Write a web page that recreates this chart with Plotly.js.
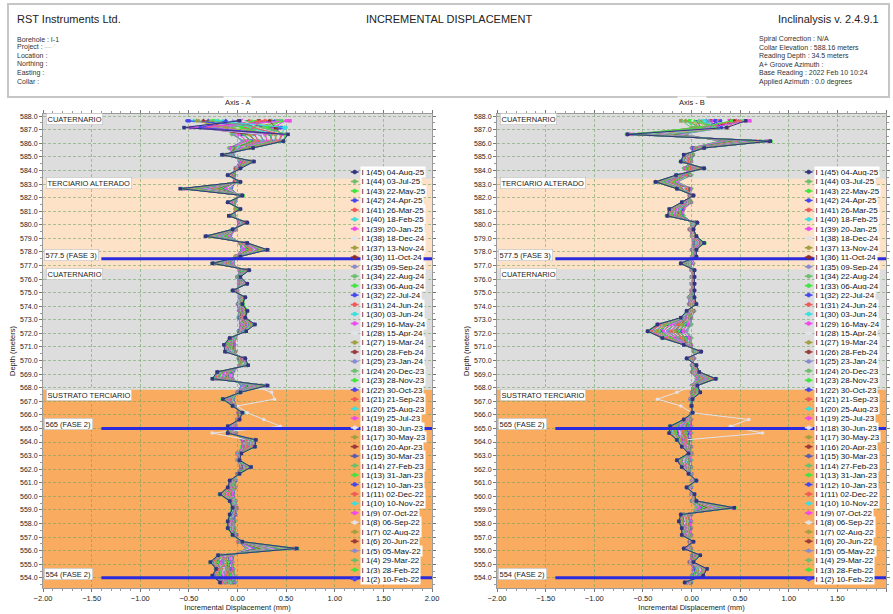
<!DOCTYPE html>
<html><head><meta charset="utf-8">
<script src="https://cdn.plot.ly/plotly-3.0.1.min.js"></script>
<style>html,body{margin:0;padding:0;background:#fff;}#chart{width:893px;height:614px;}</style>
</head><body><div id="chart"></div>
<script>
// ---------- DATA ----------
// Reading elevations (m): collar 588.16 m, readings every 0.5 m down to 34.5 m depth
const elevations = [587.66,587.16,586.66,586.16,585.66,585.16,584.66,584.16,583.66,583.16,
582.66,582.16,581.66,581.16,580.66,580.16,579.66,579.16,578.66,578.16,
577.66,577.16,576.66,576.16,575.66,575.16,574.66,574.16,573.66,573.16,
572.66,572.16,571.66,571.16,570.66,570.16,569.66,569.16,568.66,568.16,
567.66,567.16,566.66,566.16,565.66,565.16,564.66,564.16,563.66,563.16,
562.66,562.16,561.66,561.16,560.66,560.16,559.66,559.16,558.66,558.16,
557.66,557.16,556.66,556.16,555.66,555.16,554.66,554.16,553.66];

// Readings, oldest first
const readingLabels = ['I 1(2) 10-Feb-22','I 1(3) 28-Feb-22','I 1(4) 29-Mar-22','I 1(5) 05-May-22','I 1(6) 20-Jun-22','I 1(7) 02-Aug-22','I 1(8) 06-Sep-22','I 1(9) 07-Oct-22','I 1(10) 10-Nov-22','I 1(11) 02-Dec-22','I 1(12) 10-Jan-23','I 1(13) 31-Jan-23','I 1(14) 27-Feb-23','I 1(15) 30-Mar-23','I 1(16) 20-Apr-23','I 1(17) 30-May-23','I 1(18) 30-Jun-23','I 1(19) 25-Jul-23','I 1(20) 25-Aug-23','I 1(21) 21-Sep-23','I 1(22) 30-Oct-23','I 1(23) 28-Nov-23','I 1(24) 20-Dec-23','I 1(25) 23-Jan-24','I 1(26) 28-Feb-24','I 1(27) 19-Mar-24','I 1(28) 15-Apr-24','I 1(29) 16-May-24','I 1(30) 03-Jun-24','I 1(31) 24-Jun-24','I 1(32) 22-Jul-24','I 1(33) 06-Aug-24','I 1(34) 22-Aug-24','I 1(35) 09-Sep-24','I 1(36) 11-Oct-24','I 1(37) 13-Nov-24','I 1(38) 18-Dec-24','I 1(39) 20-Jan-25','I 1(40) 18-Feb-25','I 1(41) 26-Mar-25','I 1(42) 24-Apr-25','I 1(43) 22-May-25','I 1(44) 03-Jul-25','I 1(45) 04-Aug-25'];

const seriesColors = ['#4646f0','#3ee63e','#6cbf6c','#8a8ad2','#9a3a3a','#a0a040','#e2e2ec','#f048f0','#38e0e0','#f05a5a',
'#4646f0','#3ee63e','#6cbf6c','#5a5ab0','#9a3a3a','#a0a040','#e2e2ec','#f048f0','#38e0e0','#f05a5a',
'#4646f0','#3ee63e','#6cbf6c','#8a8ad2','#9a3a3a','#a0a040','#e2e2ec','#f048f0','#38e0e0','#f05a5a',
'#4646f0','#3ee63e','#6cbf6c','#8a8ad2','#8c2a2a','#a0a040','#e2e2ec','#f048f0','#38e0e0','#f05a5a',
'#4646f0','#3ee63e','#6cbf6c','#34347e'];

// Incremental displacement, Axis A, hundredths of mm (one row per reading, oldest first)
const dispA = [
[10,20, -4,5,-7,-4,2,-2,-3,-2, -6,1,-2,-2,-3,1,-2,-7,2,4, -2,-4,2,0,1,0,2,0,1,1, 3,1,-2,-3,-2,1,2,-4,-5,4, 0,-4,-1,1,0,-2,-1,4,5,0, 0,3,0,-2,-2,-4,-2,-1,-2,-3, -3,-1,1,9,-4,-5,-4,-3,-2],
[-20,5, -5,7,-8,-5,3,-1,-3,-3, -8,1,-3,-1,-3,2,-2,-9,2,5, -1,-5,2,0,2,0,2,1,2,1, 4,2,-2,-3,-2,1,2,-5,-6,5, 0,-5,-1,1,0,-2,-2,5,4,0, 0,4,0,-2,-2,-5,-2,-1,-2,-3, -3,-1,1,11,-5,-6,-4,-3,-2],
[35,-10, -6,6,-9,-5,3,-2,-4,-3, -7,1,-3,-2,-3,2,-2,-8,3,5, -2,-5,3,0,2,0,2,0,2,1, 4,1,-2,-4,-2,1,2,-5,-5,6, 0,-5,-1,1,0,-3,-2,5,6,0, 0,4,0,-2,-3,-5,-2,-1,-2,-3, -3,-1,1,10,-5,-5,-5,-3,-2],
[-5,35, -4,6,-8,-6,3,-2,-3,-3, -7,2,-3,-2,-4,2,-2,-8,2,6, -2,-5,2,0,2,0,2,0,2,1, 4,1,-2,-3,-2,1,3,-5,-5,5, 0,-5,-1,1,0,-2,-2,5,5,1, 0,4,0,-2,-2,-5,-2,-1,-2,-4, -3,-1,1,12,-5,-5,-4,-4,-2],
[22,15, 1,10,-6,-6,4,-2,-4,-2, -12,1,-4,-2,-4,3,-2,-10,3,8, -2,-7,3,0,3,-1,3,1,3,2, 5,2,-3,-4,-3,2,3,-7,-7,8, 0,-6,-1,1,0,-3,-3,6,6,0, 0,5,0,-3,-3,-6,-3,-1,-3,-4, -4,-1,1,15,-7,-7,-6,-5,-4],
[-40,-20, 2,9,-5,-6,5,-1,-4,-2, -13,2,-4,-1,-4,3,-2,-11,3,9, -2,-8,3,0,3,-1,3,1,4,2, 6,2,-3,-4,-3,2,3,-8,-7,9, 1,-6,-2,1,0,-3,-3,7,6,0, 0,5,0,-3,-3,-7,-3,-2,-3,-4, -4,-2,1,17,-7,-8,-6,-5,-4],
[48,40, 0,11,-6,-7,4,-2,-5,-2, -11,1,-5,-2,-4,3,-3,-10,4,8, -1,-7,3,1,3,-1,2,1,3,2, 5,2,-3,-5,-3,2,3,-7,-8,8, 0,-6,-1,2,0,-3,-3,6,7,1, 0,5,1,-3,-3,-6,-3,-1,-3,-5, -4,-1,2,14,-7,-7,-7,-5,-4],
[5,28, 1,10,-7,-6,4,-2,-4,-3, -12,1,-4,-2,-5,3,-2,-10,3,7, -2,-7,3,0,3,-1,3,1,3,3, 5,2,-3,-4,-4,2,3,-7,-7,8, 0,-7,-1,1,0,-3,-4,6,6,0, 0,6,0,-3,-3,-6,-3,-1,-3,-4, -4,-1,1,16,-7,-7,-6,-6,-4],
[-15,10, 6,14,-3,-7,6,-1,-4,-2, -17,2,-4,-1,-4,4,-3,-13,4,10, -1,-9,4,0,4,-1,3,1,4,2, 7,2,-3,-5,-4,2,4,-8,-9,10, 1,-7,-2,2,0,-4,-4,8,8,1, 0,6,0,-3,-4,-8,-3,-2,-3,-4, -4,-2,2,20,-8,-9,-8,-7,-5],
[30,-30, 7,13,-2,-7,6,-1,-5,-2, -18,2,-4,-1,-5,4,-3,-14,4,11, -1,-10,4,1,4,-1,3,1,4,3, 7,3,-3,-5,-4,2,4,-9,-9,11, 1,-7,-2,2,0,-4,-5,8,9,1, 0,6,0,-4,-4,-8,-3,-2,-3,-5, -4,-2,2,22,-8,-10,-8,-7,-6],
[-50,45, 5,15,-3,-8,6,-1,-4,-3, -16,2,-5,-1,-4,4,-3,-13,5,10, -1,-9,4,0,4,-2,3,1,4,2, 8,2,-4,-5,-4,2,4,-8,-10,10, 1,-8,-2,2,0,-4,-4,8,8,1, 1,6,0,-3,-4,-8,-4,-2,-3,-4, -5,-2,2,19,-9,-9,-8,-8,-5],
[18,22, 6,14,-4,-7,7,-1,-4,-2, -17,2,-4,-2,-4,5,-3,-12,4,10, -1,-9,4,0,5,-1,3,1,4,2, 7,2,-3,-6,-4,2,4,-8,-9,10, 1,-7,-2,2,0,-5,-4,9,8,1, 0,7,0,-3,-4,-8,-3,-2,-4,-4, -4,-2,2,21,-8,-9,-9,-7,-5],
[40,-5, 12,18,-1,-8,7,-1,-5,-1, -22,2,-5,-1,-5,4,-3,-15,4,13, -1,-11,5,1,4,-2,4,2,4,3, 8,3,-4,-6,-5,3,4,-10,-11,13, 1,-8,-2,2,1,-4,-4,9,9,1, 1,7,1,-4,-4,-9,-4,-2,-4,-5, -5,-2,2,25,-10,-12,-9,-10,-7],
[-30,38, 13,17,0,-8,8,-1,-5,-1, -23,3,-5,-1,-5,5,-3,-16,4,14, -1,-12,5,1,4,-2,4,2,5,3, 9,3,-4,-6,-5,3,5,-10,-12,13, 1,-8,-3,2,1,-5,-4,10,9,1, 1,7,1,-4,-5,-9,-4,-2,-4,-5, -5,-2,3,27,-10,-13,-10,-10,-7],
[0,-40, 11,19,-2,-9,7,-2,-6,-1, -21,2,-6,-1,-5,4,-4,-15,5,12, -1,-11,5,1,5,-2,4,2,4,3, 8,3,-4,-7,-5,3,4,-11,-11,12, 2,-9,-2,2,1,-4,-5,9,10,1, 1,7,1,-4,-4,-10,-4,-3,-4,-5, -6,-2,2,24,-11,-12,-9,-11,-7],
[52,12, 12,18,-1,-8,7,-1,-5,-2, -22,2,-5,-2,-6,4,-3,-15,4,13, -2,-11,6,1,4,-2,4,2,4,4, 8,4,-4,-6,-5,3,4,-10,-11,14, 1,-8,-2,3,1,-4,-4,9,9,2, 1,8,1,-4,-4,-9,-4,-2,-5,-5, -5,-3,2,26,-10,-12,-10,-10,-8],
[-10,30, 17,22,2,-9,8,0,-6,-1, -27,3,-6,0,-5,5,-3,-18,5,15, 0,-13,6,1,5,-2,4,2,5,4, 9,4,-4,-7,-6,4,5,-11,-13,15, 35,38,0,10,27,44,-26,10,10,1, 1,8,1,-4,-5,-10,-4,-3,-4,-6, -6,-3,3,30,-11,-14,-11,-12,-8],
[25,-15, 18,21,2,-9,9,0,-6,-1, -28,3,-6,0,-6,5,-3,-18,5,16, 0,-14,6,1,5,-2,5,2,5,4, 10,4,-4,-7,-6,4,5,-12,-13,15, 1,-9,-3,3,1,-5,-5,11,10,1, 1,8,1,-5,-5,-10,-4,-3,-5,-6, -6,-3,3,31,-11,-14,-12,-12,-8],
[-45,48, 16,23,1,-9,8,0,-7,-1, -26,3,-6,1,-5,5,-3,-17,6,15, 0,-13,6,1,5,-3,4,2,5,4, 9,5,-4,-7,-6,4,5,-11,-14,14, 1,-10,-3,3,1,-5,-6,10,11,1, 1,8,1,-4,-5,-11,-4,-3,-4,-6, -7,-3,3,29,-12,-14,-11,-13,-8],
[12,8, 17,22,3,-10,8,0,-6,-2, -27,3,-7,0,-5,6,-3,-19,5,15, 0,-13,7,1,5,-2,4,3,5,4, 9,4,-5,-7,-7,4,5,-11,-13,16, 1,-9,-3,3,1,-5,-5,10,10,2, 1,9,1,-4,-5,-10,-5,-3,-4,-6, -6,-3,3,31,-11,-15,-11,-12,-9],
[38,-45, 23,27,4,-10,10,0,-6,0, -32,3,-6,0,-6,6,-4,-20,6,18, 0,-15,7,1,6,-3,5,3,6,5, 11,5,-5,-8,-7,5,6,-13,-15,18, 2,-10,-3,3,1,-6,-6,12,12,2, 1,9,1,-5,-6,-12,-5,-3,-5,-6, -6,-3,3,35,-13,-16,-13,-14,-10],
[-25,25, 24,26,5,-10,11,0,-7,0, -33,3,-6,0,-7,6,-4,-21,6,19, 0,-16,7,1,6,-3,5,3,7,5, 12,5,-5,-8,-7,5,6,-14,-15,19, 2,-11,-3,3,1,-6,-7,12,13,2, 1,9,1,-5,-6,-12,-5,-3,-6,-6, -7,-3,3,37,-13,-17,-13,-15,-10],
[8,33, 22,28,4,-11,10,1,-6,0, -31,4,-7,0,-6,7,-4,-20,7,17, 1,-15,8,1,6,-3,5,3,6,6, 11,5,-6,-8,-8,5,6,-13,-16,18, 2,-10,-4,3,2,-6,-6,12,12,2, 1,10,1,-5,-6,-13,-5,-4,-5,-7, -6,-4,3,34,-14,-16,-14,-14,-10],
[45,-25, 23,27,3,-10,10,0,-6,1, -32,3,-6,-1,-6,6,-4,-20,6,18, 0,-15,7,2,6,-3,5,3,6,5, 11,6,-5,-9,-7,5,7,-13,-15,18, 2,-10,-3,4,1,-6,-6,13,12,2, 2,9,1,-5,-7,-12,-5,-3,-5,-6, -6,-3,4,36,-13,-16,-13,-14,-11],
[-35,42, 28,31,6,-11,11,1,-7,1, -37,3,-7,1,-6,7,-4,-22,7,20, 1,-17,8,1,7,-3,6,3,7,5, 12,5,-6,-9,-8,5,7,-14,-17,20, 2,-11,-3,3,1,-7,-7,13,13,2, 1,9,1,-6,-7,-13,-6,-3,-6,-7, -7,-3,3,40,-14,-18,-15,-16,-12],
[20,18, 29,30,7,-12,12,1,-7,1, -38,4,-7,1,-7,7,-4,-23,7,21, 1,-18,8,1,7,-3,6,4,7,5, 13,6,-6,-9,-8,5,7,-15,-17,21, 2,-12,-3,3,1,-7,-8,14,13,2, 1,10,1,-6,-7,-14,-6,-3,-6,-7, -8,-3,3,42,-15,-18,-15,-17,-12],
[-8,-50, 27,32,6,-11,11,1,-8,1, -36,3,-8,1,-6,8,-5,-22,8,19, 1,-17,9,1,7,-4,6,3,8,6, 12,5,-7,-10,-8,6,7,-14,-18,20, 3,-11,-4,4,1,-7,-7,13,14,2, 1,9,2,-6,-8,-13,-6,-4,-6,-8, -7,-4,4,39,-14,-19,-15,-16,-13],
[50,36, 28,31,5,-11,11,1,-7,2, -37,3,-7,0,-6,7,-4,-22,7,20, 1,-17,8,2,7,-3,6,3,7,5, 12,5,-6,-9,-9,5,8,-14,-17,20, 2,-11,-3,3,1,-7,-7,13,13,3, 1,9,1,-6,-7,-13,-6,-3,-7,-7, -7,-3,3,41,-14,-18,-16,-16,-12],
[-18,14, 34,35,9,-12,12,1,-8,1, -42,4,-8,1,-7,8,-4,-25,8,23, 1,-19,9,1,8,-4,6,4,8,6, 13,6,-6,-10,-9,6,8,-16,-19,23, 2,-12,-4,4,1,-8,-8,14,14,2, 1,10,1,-6,-8,-14,-6,-4,-6,-8, -8,-4,4,45,-16,-20,-17,-18,-13],
[28,-35, 35,34,10,-12,13,1,-8,1, -43,4,-8,1,-8,8,-4,-26,8,24, 1,-20,9,1,8,-4,6,4,9,6, 14,6,-6,-10,-9,6,8,-17,-19,24, 2,-13,-4,4,1,-8,-9,15,14,2, 1,11,1,-6,-8,-15,-6,-4,-7,-8, -9,-4,4,47,-16,-21,-17,-19,-13],
[-52,44, 33,36,9,-13,12,2,-9,1, -41,4,-9,1,-7,9,-5,-25,9,22, 2,-19,10,1,8,-4,7,4,8,7, 13,6,-7,-11,-9,6,8,-16,-20,23, 3,-12,-4,4,2,-8,-8,14,15,2, 1,10,2,-6,-9,-14,-7,-4,-6,-9, -8,-4,4,44,-17,-20,-18,-18,-14],
[15,3, 34,35,8,-12,12,1,-8,2, -42,4,-8,0,-7,8,-4,-25,8,23, 1,-19,9,2,8,-4,6,4,8,6, 13,7,-6,-10,-10,6,9,-16,-19,23, 2,-12,-4,5,1,-8,-8,15,14,3, 1,10,1,-6,-8,-14,-6,-4,-7,-8, -8,-4,4,46,-16,-20,-17,-18,-13],
[42,27, 39,39,11,-13,13,2,-9,2, -47,4,-9,2,-7,8,-4,-27,8,25, 2,-21,10,2,8,-4,7,4,8,7, 14,7,-7,-11,-10,7,8,-17,-21,25, 2,-13,-4,4,2,-8,-8,15,15,2, 2,11,2,-7,-8,-15,-7,-4,-7,-9, -9,-4,4,50,-17,-23,-18,-21,-15],
[-3,-55, 40,38,12,-13,14,2,-9,2, -48,5,-9,2,-8,8,-4,-28,8,26, 2,-22,10,2,8,-4,7,5,9,7, 15,7,-7,-11,-10,7,8,-18,-21,26, 2,-14,-4,4,2,-8,-9,16,15,2, 2,12,2,-7,-8,-16,-7,-4,-8,-9, -10,-4,4,52,-17,-24,-18,-22,-15],
[33,39, 45,44,13,-14,15,2,-10,3, -55,5,-10,2,-8,9,-5,-31,9,29, 2,-24,11,2,9,-5,8,5,10,8, 16,8,-8,-13,-12,8,10,-19,-24,29, 3,-15,-5,5,2,-10,-10,18,17,3, 2,13,2,-8,-10,-18,-8,-5,-8,-10, -10,-5,5,58,-20,-26,-21,-24,-17],
[-42,-12, 39,40,11,-14,13,2,-9,2, -46,4,-10,2,-7,9,-4,-27,9,24, 2,-21,11,2,8,-4,7,4,8,7, 14,7,-8,-11,-10,7,9,-17,-22,25, 3,-13,-5,4,2,-9,-8,15,15,2, 2,11,2,-7,-9,-15,-7,-5,-7,-9, -9,-5,4,49,-18,-23,-19,-21,-16],
[6,21, 45,43,14,-14,15,2,-9,2, -52,5,-9,2,-8,9,-5,-30,9,28, 2,-23,11,2,9,-5,7,5,9,7, 16,7,-7,-12,-11,7,9,-19,-23,28, 3,-14,-5,5,2,-9,-9,17,17,3, 2,12,2,-7,-9,-17,-7,-5,-7,-9, -9,-5,5,55,-19,-25,-20,-23,-16],
[54,-48, 46,42,15,-15,16,2,-10,2, -53,5,-9,2,-9,9,-5,-31,9,29, 2,-24,11,2,9,-5,7,6,10,7, 17,7,-7,-12,-11,7,9,-20,-23,29, 3,-15,-5,5,2,-9,-10,18,17,3, 2,13,2,-7,-9,-18,-7,-5,-8,-9, -10,-5,5,57,-19,-26,-20,-24,-16],
[-22,50, 44,44,14,-15,15,3,-10,2, -51,5,-10,2,-8,10,-6,-30,10,27, 3,-23,12,2,9,-5,8,5,9,8, 16,7,-8,-13,-11,8,9,-19,-24,28, 4,-14,-5,6,2,-9,-9,17,18,3, 2,12,3,-7,-10,-17,-8,-5,-7,-10, -9,-5,5,54,-20,-25,-21,-23,-17],
[24,16, 45,43,13,-14,15,2,-9,3, -52,5,-9,1,-8,9,-5,-30,9,28, 2,-23,11,3,9,-5,7,5,9,7, 16,8,-7,-12,-12,7,10,-19,-23,28, 3,-14,-5,5,2,-9,-9,17,17,4, 2,12,2,-7,-9,-17,-7,-5,-8,-9, -9,-5,5,56,-19,-25,-20,-23,-16],
[-12,-38, 50,47,16,-15,16,3,-10,3, -57,5,-10,3,-8,10,-5,-32,10,30, 3,-25,12,2,10,-5,8,5,10,8, 17,8,-8,-13,-12,8,10,-20,-25,30, 3,-15,-5,5,2,-10,-10,18,18,3, 2,13,2,-8,-10,-18,-8,-5,-8,-10, -10,-5,5,60,-20,-27,-22,-25,-18],
[46,31, 49,48,15,-16,17,3,-10,3, -56,6,-10,3,-9,10,-5,-33,10,31, 3,-26,12,2,10,-5,8,6,11,8, 18,8,-8,-13,-12,8,10,-21,-25,31, 3,-16,-5,5,2,-10,-11,19,18,3, 2,14,2,-8,-10,-19,-8,-5,-9,-10, -11,-5,5,62,-20,-28,-22,-26,-18],
[-28,26, 51,46,16,-15,16,3,-11,3, -58,5,-11,3,-8,11,-6,-32,11,29, 3,-25,13,2,10,-6,8,5,10,9, 17,8,-9,-14,-12,9,10,-20,-26,30, 4,-15,-6,6,2,-10,-10,18,19,3, 2,13,3,-8,-11,-18,-9,-6,-8,-11, -10,-6,5,59,-21,-27,-23,-25,-19],
[2,-55, 52,47,16,-16,17,3,-10,3, -59,5,-10,3,-9,10,-5,-33,10,31, 3,-26,12,3,10,-5,8,5,10,8, 18,9,-8,-14,-13,8,11,-21,-26,31, 3,-15,-5,5,2,-10,-10,19,18,4, 2,14,2,-8,-10,-18,-8,-5,-8,-10, -10,-5,5,61,-20,-28,-22,-26,-18]
];

// Incremental displacement, Axis B, hundredths of mm (one row per reading, oldest first)
const dispB = [
[5,10, -8,30,0,2,0,-8,0,-15, 0,-2,0,-8,-8,0,-2,0,2,0, 0,2,0,0,0,0,-3,-3,3,0, 0,-5,0,0,2,3,0,0,5,0, 0,-1,0,0,0,0,0,0,0,0, 0,0,0,0,0,0,0,5,0,0, 0,0,-2,0,0,-2,2,0,0],
[30,25, -9,31,1,2,0,-7,-1,-16, -1,-2,0,-9,-8,1,-2,0,2,1, 0,1,0,1,0,0,-2,-3,2,0, -1,-6,-1,0,2,2,0,1,6,0, 1,-1,0,0,-1,-1,-1,0,0,0, -1,0,0,1,0,0,1,6,-1,0, 0,-1,-2,0,1,-2,2,1,0],
[-10,0, -7,29,0,1,-1,-8,0,-14, 0,-1,-1,-8,-9,0,-1,1,3,0, 1,2,0,0,1,0,-3,-2,3,-1, 0,-5,0,-1,3,3,1,0,5,1, 0,-1,0,0,0,-1,0,-1,0,0, 0,-1,0,0,-1,1,0,5,0,-1, -1,0,-2,0,0,-1,3,0,0],
[45,35, -10,32,1,2,0,-7,-1,-15, -1,-2,0,-8,-9,1,-2,0,2,1, 0,2,1,0,0,1,-3,-3,2,0, -2,-6,-1,0,2,3,0,1,6,0, 0,-1,0,0,-1,-1,-1,-1,0,0, -1,0,0,0,0,0,1,7,0,0, 0,0,-2,-1,1,-2,2,0,-1],
[20,15, -14,35,1,1,-1,-6,-2,-17, -2,-2,-1,-9,-10,1,-2,1,3,1, 1,1,0,0,0,0,-2,-2,2,-1, -4,-9,-3,-1,3,2,1,1,7,1, 1,-1,0,0,-1,-2,-2,-2,-1,0, -2,-1,0,1,-1,0,1,9,-1,-1, -1,-1,-2,-1,1,-2,3,1,-1],
[55,30, -15,34,2,1,-1,-6,-2,-18, -2,-2,-1,-10,-10,1,-2,1,4,1, 1,1,0,0,1,0,-2,-2,2,-1, -5,-10,-3,-1,3,2,1,1,8,1, 1,-1,0,0,-1,-2,-3,-2,-1,0, -2,-1,0,1,-1,0,1,10,-1,-2, -1,-1,-2,-1,1,-2,4,1,-1],
[0,5, -13,36,1,0,-2,-5,-2,-17, -2,-1,-2,-9,-11,1,-1,1,3,1, 1,1,1,0,0,1,-2,-1,2,-1, -4,-9,-4,-1,3,2,1,2,7,1, 2,-1,0,0,-1,-3,-2,-2,-1,0, -2,-1,0,1,-1,0,1,9,-1,-1, -1,-2,-2,-1,2,-1,3,1,-1],
[38,20, -14,35,1,1,-1,-6,-3,-17, -2,-2,-1,-9,-10,2,-2,1,3,1, 1,0,0,1,0,0,-2,-2,1,-1, -4,-9,-3,-1,4,2,1,1,7,1, 1,-1,0,0,-1,-2,-2,-3,-1,0, -2,-2,0,1,-1,0,2,9,-2,-1, -1,-1,-2,-1,1,-2,3,2,-1],
[12,37, -20,40,3,0,-2,-4,-3,-19, -3,-1,-2,-11,-11,1,-1,1,4,1, 1,-1,1,1,1,1,-2,-1,1,-2, -7,-13,-6,-2,4,1,1,2,9,1, 2,-1,0,0,-2,-4,-5,-3,-2,-1, -3,-2,-1,1,-1,1,1,13,-2,-3, -2,-2,-1,-2,2,-1,5,2,-1],
[60,12, -21,41,3,0,-2,-4,-3,-20, -3,-1,-2,-11,-12,1,-1,1,4,1, 1,-1,1,1,1,1,-2,-1,1,-2, -8,-14,-6,-2,4,1,1,2,10,1, 2,-1,0,0,-2,-5,-5,-3,-2,-1, -3,-2,-1,1,-1,1,1,14,-2,-3, -2,-2,-1,-2,2,-1,5,2,-1],
[25,28, -19,39,2,0,-3,-4,-4,-19, -3,-1,-3,-10,-11,2,-1,2,4,1, 2,-1,1,1,1,1,-1,-1,1,-2, -7,-12,-6,-2,4,1,1,2,9,2, 2,-1,0,0,-2,-4,-4,-3,-2,-1, -3,-2,-1,2,-1,1,1,12,-2,-3, -2,-3,-1,-2,2,-1,4,2,-1],
[-5,2, -20,40,3,1,-2,-5,-3,-19, -4,-1,-2,-11,-11,1,-1,1,5,1, 1,-1,1,1,1,1,-2,-1,1,-2, -7,-13,-6,-2,5,1,1,2,9,1, 2,-1,0,0,-2,-4,-5,-4,-2,-1, -3,-2,-1,1,-1,1,1,13,-2,-3, -2,-2,-1,-2,3,-1,5,2,-1],
[50,33, -25,45,4,-1,-3,-2,-5,-22, -5,-1,-3,-12,-13,2,-1,2,5,2, 2,-2,1,1,1,1,-1,-1,1,-3, -11,-17,-9,-2,4,1,2,2,11,2, 3,0,0,0,-2,-7,-7,-5,-3,-1, -5,-3,-1,2,-2,1,2,17,-3,-4, -3,-3,-1,-2,3,-1,6,4,-2],
[15,18, -26,46,4,-1,-3,-2,-5,-23, -5,-1,-3,-13,-13,2,-1,2,6,2, 2,-2,1,1,1,1,-1,-1,1,-3, -12,-18,-9,-2,4,1,2,2,12,2, 3,0,0,0,-2,-7,-8,-5,-3,-1, -5,-3,-1,2,-2,1,2,18,-3,-4, -3,-3,-1,-2,3,-1,6,4,-2],
[42,8, -24,44,5,-1,-3,-1,-5,-22, -4,-1,-4,-12,-14,2,-1,2,5,2, 2,-2,1,1,2,1,-1,0,1,-3, -11,-16,-10,-3,4,1,2,3,11,2, 3,0,0,0,-3,-6,-7,-5,-3,-1, -5,-3,-1,2,-2,1,2,16,-3,-4, -3,-3,-1,-2,3,-1,6,4,-2],
[-11,36, -25,45,5,-1,-3,-2,-6,-21, -5,-1,-3,-12,-13,2,-1,2,5,2, 2,-2,1,1,1,1,-1,-1,1,-3, -10,-17,-9,-2,4,1,2,2,11,2, 3,0,0,0,-2,-7,-7,-5,-3,-1, -5,-3,-1,2,-2,1,2,18,-3,-4, -3,-3,-1,-2,3,-1,6,4,-2],
[33,22, -31,50,5,-2,-4,0,-6,-24, -6,0,-4,-14,-15,2,0,2,6,2, 2,-3,1,1,1,1,-1,0,0,-4, -14,-21,-12,-3,5,0,2,3,13,2, -15,-35,-11,0,59,40,73,-6,-4,-1, -6,-4,-1,2,-2,1,2,21,-4,-5, -4,-4,0,-3,4,0,8,5,-3],
[58,4, -32,51,5,-2,-4,0,-6,-25, -6,0,-4,-14,-15,2,0,2,6,2, 2,-3,1,1,1,1,-1,0,0,-4, -15,-22,-12,-3,5,0,2,3,14,2, 4,0,0,0,-3,-9,-10,-6,-4,-1, -6,-4,-1,2,-2,1,2,22,-4,-5, -4,-4,0,-3,4,0,8,5,-3],
[8,30, -30,49,6,-2,-5,1,-7,-24, -7,0,-4,-13,-16,2,0,3,6,2, 2,-3,1,1,1,2,-1,0,0,-4, -14,-20,-13,-3,5,0,2,3,13,3, 4,0,0,0,-3,-9,-9,-7,-4,-1, -6,-4,-1,2,-2,1,2,20,-4,-5, -4,-4,0,-3,4,0,7,5,-3],
[28,14, -31,50,5,-2,-4,0,-6,-24, -6,0,-4,-14,-15,3,0,2,7,2, 2,-4,1,1,1,1,-1,0,0,-4, -14,-21,-12,-3,6,0,2,3,13,2, 4,0,0,0,-3,-10,-9,-6,-4,-1, -7,-4,-1,2,-2,1,2,21,-4,-6, -4,-4,0,-3,4,0,8,5,-3],
[48,26, -37,56,7,-3,-6,3,-8,-26, -8,0,-5,-15,-17,3,0,3,8,3, 3,-5,2,2,2,2,0,1,-1,-5, -18,-25,-15,-4,6,-1,3,4,15,3, 5,0,0,1,-4,-11,-12,-8,-5,-2, -8,-5,-2,3,-3,2,3,25,-6,-7, -5,-5,0,-4,5,0,9,6,-4],
[-2,6, -38,57,7,-3,-6,3,-8,-27, -8,0,-5,-16,-17,3,0,3,8,3, 3,-5,2,2,2,2,0,1,-1,-5, -19,-26,-15,-4,6,-1,3,4,16,3, 5,0,0,1,-4,-12,-12,-8,-5,-2, -8,-5,-2,3,-3,2,3,26,-6,-7, -5,-5,0,-4,5,0,9,6,-4],
[52,34, -36,55,8,-3,-6,4,-8,-26, -8,0,-5,-15,-17,3,0,3,8,3, 3,-5,2,2,2,2,0,1,-1,-5, -18,-24,-16,-4,6,-1,3,4,15,3, 5,0,0,1,-4,-11,-11,-8,-5,-2, -8,-5,-2,3,-3,2,3,24,-6,-7, -5,-5,0,-4,5,0,9,6,-4],
[18,16, -37,56,7,-3,-6,3,-9,-26, -8,0,-5,-15,-18,3,0,3,8,3, 3,-5,2,2,2,2,0,1,-1,-6, -18,-25,-15,-4,7,-1,3,4,15,3, 5,0,0,1,-4,-11,-12,-9,-5,-2, -8,-5,-2,3,-3,2,3,25,-6,-8, -5,-5,0,-4,5,0,9,6,-4],
[40,24, -43,61,8,-4,-7,5,-9,-28, -9,0,-6,-16,-18,4,0,3,9,3, 3,-6,2,2,2,2,1,2,-2,-6, -21,-29,-18,-5,7,-2,3,5,17,4, 5,0,0,1,-5,-13,-14,-9,-6,-2, -9,-6,-2,3,-3,2,3,28,-7,-8, -6,-6,0,-5,5,0,10,7,-4],
[10,1, -44,62,8,-4,-7,5,-9,-29, -9,0,-6,-17,-18,4,0,3,9,3, 3,-6,2,2,2,2,1,2,-2,-6, -22,-30,-18,-5,7,-2,3,5,18,4, 5,0,0,1,-5,-14,-14,-9,-6,-2, -9,-6,-2,3,-3,2,3,29,-7,-8, -6,-6,0,-5,5,0,10,7,-4],
[57,32, -42,60,9,-4,-7,6,-10,-28, -9,0,-6,-16,-19,4,0,3,9,3, 3,-6,2,2,2,2,1,2,-2,-6, -21,-28,-19,-5,7,-2,3,5,17,4, 6,0,0,1,-5,-13,-13,-10,-6,-2, -9,-6,-2,3,-3,2,3,27,-7,-8, -6,-6,0,-5,6,0,10,7,-4],
[22,19, -43,61,8,-4,-8,5,-9,-28, -10,0,-6,-16,-18,4,0,4,9,3, 3,-6,2,2,2,2,1,2,-2,-6, -21,-29,-18,-5,8,-2,3,5,17,4, 5,0,0,1,-5,-13,-14,-9,-6,-2, -10,-6,-2,3,-3,2,3,28,-7,-9, -6,-6,0,-5,5,0,11,7,-4],
[-8,10, -49,66,9,-5,-8,7,-11,-30, -11,1,-7,-18,-20,4,1,4,10,4, 4,-7,2,2,2,2,1,3,-3,-7, -25,-33,-21,-6,8,-3,4,6,19,4, 6,0,0,1,-6,-15,-16,-11,-7,-2, -11,-7,-2,4,-4,2,4,32,-8,-9, -7,-7,1,-6,6,1,12,8,-5],
[46,37, -50,67,9,-5,-8,7,-11,-31, -11,1,-7,-18,-21,4,1,4,10,4, 4,-7,2,2,2,2,1,3,-3,-7, -26,-34,-21,-6,8,-3,4,6,20,4, 6,0,0,1,-6,-16,-16,-11,-7,-2, -11,-7,-2,4,-4,2,4,33,-8,-9, -7,-7,1,-6,6,1,12,8,-5],
[30,13, -48,65,10,-5,-8,8,-11,-30, -11,1,-7,-18,-20,5,1,4,10,4, 4,-7,2,2,2,2,1,3,-3,-7, -25,-32,-22,-6,8,-3,4,6,19,4, 6,0,0,1,-6,-15,-15,-11,-7,-2, -11,-7,-2,4,-4,2,4,31,-8,-9, -7,-7,1,-6,6,1,12,8,-5],
[3,27, -49,66,9,-5,-9,7,-12,-30, -11,1,-7,-18,-20,4,1,4,11,4, 4,-7,2,2,2,2,1,3,-3,-8, -25,-33,-21,-6,8,-3,4,6,19,4, 6,0,0,1,-6,-15,-16,-12,-7,-2, -11,-7,-2,4,-4,2,4,32,-8,-10, -7,-7,1,-6,6,1,12,8,-5],
[54,3, -54,71,10,-6,-9,9,-12,-33, -12,1,-8,-19,-22,5,1,4,11,4, 4,-8,2,2,2,2,2,3,-3,-8, -28,-37,-24,-6,8,-3,4,6,21,5, 7,1,0,1,-6,-18,-18,-12,-8,-2, -12,-8,-2,4,-4,2,4,36,-9,-10, -8,-8,1,-6,7,1,13,10,-6],
[26,29, -55,72,10,-6,-9,9,-12,-34, -12,1,-8,-20,-22,5,1,4,11,4, 4,-8,2,2,2,2,2,3,-3,-8, -29,-38,-24,-6,8,-3,4,6,22,5, 7,1,0,1,-6,-18,-19,-12,-8,-2, -12,-8,-2,4,-4,2,4,37,-9,-10, -8,-8,1,-6,7,1,13,10,-6],
[44,21, -64,79,13,-8,-11,12,-15,-37, -15,2,-10,-22,-25,6,2,5,13,5, 5,-11,3,3,3,3,3,5,-5,-10, -34,-44,-29,-8,10,-5,5,8,25,6, 9,1,0,1,-8,-22,-22,-15,-10,-3, -15,-10,-3,5,-5,3,5,43,-11,-13, -10,-10,2,-8,9,2,16,12,-7],
[-6,11, -54,70,11,-6,-9,9,-13,-33, -12,1,-8,-19,-22,5,1,4,11,5, 4,-8,2,2,2,2,2,3,-3,-8, -28,-36,-24,-7,8,-3,4,6,21,5, 7,1,0,1,-6,-17,-18,-12,-8,-2, -12,-8,-2,4,-4,2,4,35,-9,-10, -8,-8,1,-6,7,1,13,10,-6],
[36,35, -60,76,12,-7,-10,11,-14,-35, -14,2,-9,-21,-23,5,2,5,12,5, 5,-10,3,3,3,3,2,4,-4,-9, -32,-41,-27,-7,9,-4,5,7,23,5, 8,1,0,1,-7,-20,-21,-14,-9,-3, -14,-9,-3,5,-5,3,5,40,-10,-12, -9,-9,2,-7,8,2,15,11,-6],
[60,17, -61,77,12,-7,-10,11,-14,-36, -14,2,-9,-21,-24,5,2,5,12,5, 5,-10,3,3,3,3,2,4,-4,-9, -33,-42,-27,-7,9,-4,5,7,24,5, 8,1,0,1,-7,-21,-21,-14,-9,-3, -14,-9,-3,5,-5,3,5,41,-10,-12, -9,-9,2,-7,8,2,15,11,-6],
[14,23, -59,75,13,-7,-10,12,-14,-35, -14,2,-9,-21,-23,6,2,5,12,5, 5,-10,3,3,3,3,2,4,-4,-9, -32,-40,-28,-7,9,-4,5,7,23,5, 8,1,0,1,-7,-20,-20,-14,-9,-3, -14,-9,-3,5,-5,3,5,39,-10,-12, -9,-9,2,-7,8,2,15,11,-6],
[50,7, -60,76,12,-7,-11,11,-14,-35, -14,2,-9,-21,-23,5,2,5,13,5, 5,-10,3,3,3,3,2,4,-4,-10, -32,-41,-27,-7,9,-4,5,7,23,5, 8,1,0,1,-7,-20,-21,-15,-9,-3, -14,-9,-3,5,-5,3,5,40,-10,-12, -9,-9,2,-7,8,2,15,11,-6],
[24,31, -66,81,13,-8,-11,13,-15,-37, -15,2,-10,-22,-25,6,2,5,13,5, 5,-11,3,3,3,3,3,5,-5,-10, -35,-45,-30,-8,10,-5,5,8,25,6, 9,1,0,1,-8,-22,-23,-15,-10,-3, -15,-10,-3,5,-5,3,5,44,-11,-13, -10,-10,2,-8,9,2,16,12,-7],
[41,9, -67,82,13,-8,-11,13,-15,-38, -15,2,-10,-22,-26,6,2,5,14,5, 5,-11,3,3,3,3,3,5,-5,-10, -36,-46,-30,-8,10,-5,5,8,26,6, 9,1,0,1,-8,-23,-23,-15,-10,-3, -15,-10,-3,5,-5,3,5,45,-11,-13, -10,-10,2,-8,9,2,16,12,-7],
[7,25, -65,80,14,-8,-12,14,-15,-37, -15,2,-10,-22,-25,6,2,5,13,5, 5,-11,3,3,3,3,3,5,-5,-10, -35,-44,-31,-8,10,-5,5,8,25,6, 9,1,0,1,-8,-22,-22,-16,-10,-3, -15,-10,-3,5,-5,3,5,43,-11,-13, -10,-10,2,-8,9,2,16,12,-7],
[56,36, -66,81,13,-8,-11,13,-16,-37, -15,2,-10,-23,-25,6,2,5,13,5, 5,-11,3,3,3,3,3,5,-5,-11, -35,-45,-30,-8,10,-5,5,8,25,6, 9,1,0,1,-8,-22,-23,-15,-10,-3, -15,-10,-3,5,-5,3,5,44,-11,-13, -10,-10,2,-8,9,2,16,12,-7]
];

// Geological bands (elevation m)
const bandNames  = ['CUATERNARIO','TERCIARIO ALTERADO','CUATERNARIO','SUSTRATO TERCIARIO'];
const bandTop    = [588.16, 583.4, 576.7, 567.85];
const bandBottom = [583.4, 576.7, 567.85, 553.25];
const bandColors = ['#dddddd','#fde2c7','#dddddd','#f9ac5f'];

// Excavation phase levels (elevation m)
const phaseNames  = ['577.5 (FASE 3)','565 (FASE 2)','554 (FASE 2)'];
const phaseLevels = [577.5, 565.0, 554.0];

// Header information
const headerLeft = ['Borehole : I-1','Project : <span style="color:#c9c9c9">\u2014\u00b7\u2019</span>','Location :','Northing :','Easting :','Collar :'];
const headerRight = ['Spiral Correction : N/A','Collar Elevation : 588.16 meters','Reading Depth : 34.5 meters','A+ Groove Azimuth :','Base Reading : 2022 Feb 10 10:24','Applied Azimuth : 0.0 degrees'];

// ---------- CHECKS ----------
[[dispA,'dispA'],[dispB,'dispB']].forEach(([rows,n])=>{
  if(rows.length!==readingLabels.length) throw new Error(n+' has '+rows.length+' rows');
  rows.forEach((r,i)=>{ if(r.length!==elevations.length) throw new Error(n+' row '+i+' has '+r.length+' values'); });
});

// ---------- PLOT ----------
const FONT = 'Liberation Sans, Arial, sans-serif';
const W = 893, H = 614, ML = 43, MR = 7, MT = 114, MB = 26;
const PW = W-ML-MR, PH = H-MT-MB;
const PX = px => (px-ML)/PW;
const PY = py => (H-MB-py)/PH;
const symbols = ['triangle-down','circle','diamond','triangle-up','square','circle','triangle-down','diamond','circle','triangle-up','square'];

const traces = [];
const axesPairs = [['x','y',dispA],['x2','y2',dispB]];
axesPairs.forEach(([xa,ya,rows])=>{
  rows.forEach((row,i)=>{
    traces.push({type:'scatter', mode:'lines+markers', name:readingLabels[i],
      x: row.map(v=>v/100), y: elevations, xaxis:xa, yaxis:ya,
      line:{color:seriesColors[i], width:1},
      marker:{color:seriesColors[i], size:3.5, symbol:symbols[i%symbols.length]},
      showlegend:false, hoverinfo:'skip'});
  });
});

const shapes = [];
const annotations = [];
// header box
shapes.push({type:'rect', xref:'paper', yref:'paper', x0:PX(8), x1:PX(889), y0:PY(97), y1:PY(4),
  line:{color:'#c6c6c6', width:2}, fillcolor:'rgba(0,0,0,0)', layer:'below'});

const domA = [0, PX(432)], domB = [PX(497), 1];
axesPairs.forEach(([xa,ya],k)=>{
  bandTop.forEach((t,j)=>{
    shapes.push({type:'rect', xref:xa+' domain', yref:ya, x0:0, x1:1, y0:bandBottom[j], y1:t,
      fillcolor:bandColors[j], line:{width:0}, layer:'below'});
    annotations.push({xref:xa, yref:ya, x:-1.965, y:t-0.35, xanchor:'left', yanchor:'middle', showarrow:false,
      text:bandNames[j], bgcolor:'#ffffff', bordercolor:'#b0b0b0', borderwidth:0.5, borderpad:1,
      font:{family:FONT, size:7.5, color:'#222'}});
  });
  phaseLevels.forEach((l,j)=>{
    shapes.push({type:'line', xref:xa, yref:ya, x0:-1.40, x1:2, y0:l, y1:l,
      line:{color:'#2b2bde', width:3}, layer:'above'});
    annotations.push({xref:xa, yref:ya, x:-1.985, y:l+0.3, xanchor:'left', yanchor:'middle', showarrow:false,
      text:phaseNames[j], bgcolor:'#ffffff', bordercolor:'#b0b0b0', borderwidth:0.5, borderpad:1,
      font:{family:FONT, size:7.5, color:'#222'}});
  });
  // custom legend (newest on top)
  const n = readingLabels.length;
  for(let k2=0;k2<n;k2++){
    const i = n-1-k2;
    const py = PY(172 + k2*9.47);
    const c = seriesColors[i];
    shapes.push({type:'line', xref:xa, yref:'paper', x0:1.165, x1:1.245, y0:py, y1:py,
      line:{color:c, width:1.5}, layer:'above'});
    shapes.push({type:'circle', xref:xa, yref:'paper', xsizemode:'pixel', ysizemode:'pixel',
      xanchor:1.205, yanchor:py, x0:-2, x1:2, y0:-2, y1:2, fillcolor:c, line:{color:c, width:0.5}, layer:'above'});
    annotations.push({xref:xa, yref:'paper', x:1.255, y:py, xanchor:'left', yanchor:'middle', showarrow:false,
      text:readingLabels[i], bgcolor:'#ffffff', borderpad:0.5, font:{family:FONT, size:8, color:'#111'}});
  }
  // subplot title
  const dom = k ? domB : domA;
  annotations.push({xref:'paper', yref:'paper', x:(dom[0]+dom[1])/2, y:PY(103), xanchor:'center', yanchor:'middle',
    showarrow:false, text: k ? 'Axis - B' : 'Axis - A', bgcolor:'#ffffff', borderpad:1,
    font:{family:FONT, size:7.5, color:'#222'}});
});

// header texts
annotations.push({xref:'paper', yref:'paper', x:PX(15), y:PY(19), xanchor:'left', yanchor:'middle', showarrow:false,
  text:'RST Instruments Ltd.', font:{family:FONT, size:11, color:'#222'}});
annotations.push({xref:'paper', yref:'paper', x:PX(881), y:PY(19), xanchor:'right', yanchor:'middle', showarrow:false,
  text:'Inclinalysis v. 2.4.9.1', font:{family:FONT, size:11, color:'#222'}});
headerLeft.forEach((t,j)=>annotations.push({xref:'paper', yref:'paper', x:PX(15), y:PY(39+j*8.4), xanchor:'left', yanchor:'middle',
  showarrow:false, text:t, font:{family:FONT, size:7, color:'#333'}}));
headerRight.forEach((t,j)=>annotations.push({xref:'paper', yref:'paper', x:PX(757), y:PY(39+j*8.6), xanchor:'left', yanchor:'middle',
  showarrow:false, text:t, font:{family:FONT, size:7, color:'#333'}}));

const GRID = 'rgba(105,160,95,0.55)';
const xCommon = {range:[-2,2], tick0:0, dtick:0.5, tickformat:'.2f', showgrid:true, gridcolor:GRID, griddash:'3px,2px', gridwidth:1,
  zeroline:false, showline:true, linecolor:'#9a9a9a', linewidth:1, mirror:'allticks', ticks:'outside', ticklen:3, tickcolor:'#777',
  tickfont:{family:FONT, size:7.5, color:'#222'},
  minor:{dtick:0.1, ticks:'outside', ticklen:2, tickcolor:'#999', showgrid:false},
  title:{text:'Incremental Displacement (mm)', font:{family:FONT, size:7.5, color:'#222'}, standoff:2}};
const yCommon = {range:[553.25,588.16], tick0:0, dtick:1, tickformat:'.1f', showgrid:true, gridcolor:GRID, griddash:'3px,2px', gridwidth:1,
  zeroline:false, showline:true, linecolor:'#9a9a9a', linewidth:1, mirror:'allticks', ticks:'outside', ticklen:3, tickcolor:'#777',
  tickfont:{family:FONT, size:7, color:'#222'},
  minor:{dtick:0.5, ticks:'outside', ticklen:2, tickcolor:'#999', showgrid:false},
  title:{text:'Depth (meters)', font:{family:FONT, size:7.5, color:'#222'}, standoff:3}};

const layout = {
  width:W, height:H, margin:{l:ML, r:MR, t:MT, b:MB, pad:0},
  paper_bgcolor:'#ffffff', plot_bgcolor:'#dddddd', showlegend:false, hovermode:false,
  font:{family:FONT, size:7.5, color:'#222'},
  title:{text:'INCREMENTAL DISPLACEMENT', x:449/W, xanchor:'center', xref:'container', y:1-19/H, yanchor:'middle', yref:'container',
    font:{family:FONT, size:11, color:'#222'}},
  xaxis:Object.assign({}, xCommon, {domain:domA, anchor:'y'}),
  yaxis:Object.assign({}, yCommon, {anchor:'x'}),
  xaxis2:Object.assign({}, xCommon, {domain:domB, anchor:'y2'}),
  yaxis2:Object.assign({}, yCommon, {anchor:'x2'}),
  shapes:shapes, annotations:annotations
};

Plotly.newPlot('chart', traces, layout, {staticPlot:true, displayModeBar:false});
</script>
</body></html>
